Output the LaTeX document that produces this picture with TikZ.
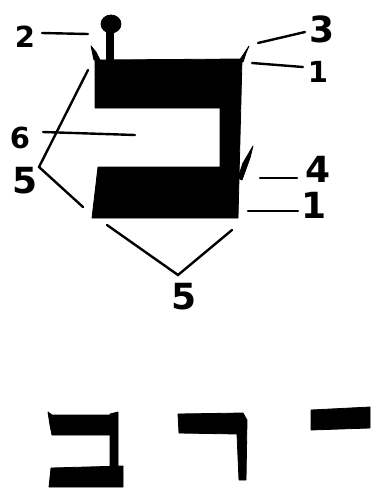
\documentclass[tikz,border=0pt]{standalone}
\usepackage{fontspec}
\setmainfont{DejaVu Sans}
\begin{document}
\begin{tikzpicture}[x=1pt,y=-1pt,
  lbl/.style={font=\fontsize{29}{29}\selectfont\bfseries, inner sep=0pt},
  biglbl/.style={font=\fontsize{36}{36}\selectfont\bfseries, inner sep=0pt},
  lead/.style={line width=2.4pt, line cap=round},
  ink/.style={fill=black, draw=black, line width=0.8pt, line join=round}]
\useasboundingbox (0,0) rectangle (378,488);
% main letter
\fill[ink] (95,60) -- (242,59) -- (238,218) -- (92,218) -- (98,167) -- (220,167) -- (220,108) -- (95,108) -- cycle;
% horns
\fill[ink] (91,46) -- (96,52) -- (100,60) -- (94,60) -- cycle;
\fill[ink] (249,46) -- (246,53) -- (243,62) -- (239,61) -- cycle;
\fill[ink] (253,146) -- (250,158) -- (242,180) -- (238,178) -- (243,163) -- cycle;
% knob
\fill[ink] (106,30) rectangle (113,60);
\fill[ink] (111,24) ellipse [x radius=10, y radius=9];
% label anchors
\coordinate (e2) at (88,34);
\coordinate (e3) at (258,43);
\coordinate (e1a) at (252,63);
\coordinate (e6) at (135,135);
\coordinate (e5a) at (88,70);
\coordinate (e5b) at (83,207);
\coordinate (e4) at (260,178);
\coordinate (e1b) at (248,211);
\coordinate (e5c) at (107,225);
\coordinate (e5d) at (232,230);
% labels
\node[lbl] (n2) at (25,37) {2};
\node[biglbl] (n3) at (322,29) {3};
\node[lbl] (n1a) at (318,72) {1};
\node[lbl] (n6) at (20,138) {6};
\node[biglbl] (n5a) at (25,181) {5};
\node[biglbl] (n4) at (318,169) {4};
\node[biglbl] (n1b) at (314,205) {1};
\node[biglbl] (n5b) at (184,297) {5};
\coordinate (v5a) at (39,167);
\coordinate (v5b) at (178,275);
% leaders
\draw[lead] (42,33) -- (e2);
\draw[lead] (305,32) -- (e3);
\draw[lead] (303,67) -- (e1a);
\draw[lead] (43,132) -- (e6);
\draw[lead] (e5a) -- (v5a) -- (e5b);
\draw[lead] (297,178) -- (e4);
\draw[lead] (298,211) -- (e1b);
\draw[lead] (e5c) -- (v5b) -- (e5d);
% bottom row of strokes
\fill[ink] (48,412) -- (52,415) -- (113,415) -- (113,435) -- (52,435) -- (50,425) -- cycle;
\fill[ink] (110,414) -- (118,412) -- (118,470) -- (110,470) -- cycle;
\fill[ink] (51,468) -- (123,466) -- (123,487) -- (49,487) -- cycle;
\fill[ink] (178,414) -- (243,413) -- (247,420) -- (246,480) -- (239,480) -- (237,434) -- (179,433) -- cycle;
\fill[ink] (311,410) -- (370,407) -- (370,428) -- (311,430) -- cycle;
\end{tikzpicture}
\end{document}
